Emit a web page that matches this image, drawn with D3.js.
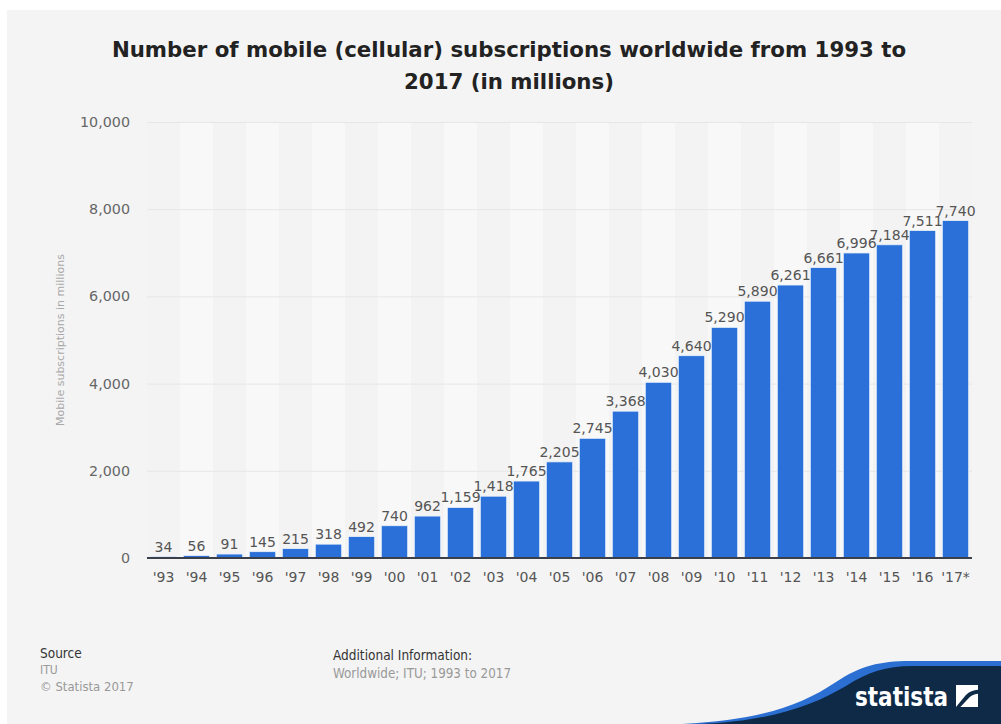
<!DOCTYPE html>
<html>
<head>
<meta charset="utf-8">
<script src="https://cdn.jsdelivr.net/npm/d3@7"></script>
<style>
  html, body { margin: 0; padding: 0; background: #ffffff; }
  svg { display: block; }
</style>
</head>
<body>
<svg id="chart" width="1001" height="724"></svg>
<script>
// Mobile subscriptions worldwide, in millions
const years = ["'93","'94","'95","'96","'97","'98","'99","'00","'01","'02","'03","'04","'05",
               "'06","'07","'08","'09","'10","'11","'12","'13","'14","'15","'16","'17*"];
const subscriptions = [34, 56, 91, 145, 215, 318, 492, 740, 962, 1159, 1418, 1765, 2205,
                       2745, 3368, 4030, 4640, 5290, 5890, 6261, 6661, 6996, 7184, 7511, 7740];
const yTicks = [0, 2000, 4000, 6000, 8000, 10000];

const titleLines = ["Number of mobile (cellular) subscriptions worldwide from 1993 to", "2017 (in millions)"];
const yTitle = "Mobile subscriptions in millions";

const svg = d3.select("#chart");
const W = 1001, H = 724;

// panel background
svg.append("rect").attr("x", 7).attr("y", 10).attr("width", W - 7).attr("height", H - 10)
  .attr("fill", "#f4f4f4");

// title
const title = svg.append("text")
  .attr("text-anchor", "middle")
  .attr("font-family", "'DejaVu Sans', sans-serif")
  .attr("font-weight", "bold")
  .attr("font-size", 21.3)
  .attr("fill", "#222");
titleLines.forEach((line, i) => {
  title.append("tspan").attr("x", 509).attr("y", 57 + i * 32).text(line);
});

// plot area
const plot = { left: 147, right: 972, top: 122, bottom: 558 };

const x = d3.scaleBand()
  .domain(years)
  .range([plot.left, plot.right])
  .paddingInner(0.2)
  .paddingOuter(0.1);

const y = d3.scaleLinear()
  .domain([0, 10000])
  .range([plot.bottom, plot.top]);

// alternating column stripes
const bandStep = x.step();
svg.append("g").selectAll("rect")
  .data(years)
  .join("rect")
  .attr("x", d => x(d) - x.paddingOuter() * bandStep)
  .attr("y", plot.top)
  .attr("width", bandStep)
  .attr("height", plot.bottom - plot.top)
  .attr("fill", (d, i) => i % 2 === 0 ? "#f3f3f3" : "#f8f8f8");

// y axis with gridlines
const fmt = d3.format(",");
const yAxis = svg.append("g")
  .attr("transform", `translate(${plot.left},0)`)
  .call(d3.axisLeft(y).tickValues(yTicks).tickFormat(fmt)
    .tickSize(-(plot.right - plot.left)).tickPadding(17));
yAxis.select(".domain").remove();
yAxis.selectAll(".tick line").attr("stroke", "#e6e6e6").attr("stroke-width", 1);
yAxis.selectAll(".tick text")
  .attr("font-family", "'DejaVu Sans', sans-serif")
  .attr("font-size", 14.3)
  .attr("fill", "#666");

// y axis title
svg.append("text")
  .attr("transform", "translate(64,340) rotate(-90)")
  .attr("text-anchor", "middle")
  .attr("font-family", "'DejaVu Sans', sans-serif")
  .attr("font-size", 11)
  .attr("fill", "#a8a8a8")
  .text(yTitle);

// bars
svg.append("g").selectAll("rect")
  .data(subscriptions)
  .join("rect")
  .attr("x", (d, i) => x(years[i]))
  .attr("y", d => y(d))
  .attr("width", x.bandwidth())
  .attr("height", d => y(0) - y(d))
  .attr("fill", "#2a70d8")
  .attr("stroke", "#eaf2fc")
  .attr("stroke-width", 0.8);

// value labels
svg.append("g").selectAll("text")
  .data(subscriptions)
  .join("text")
  .attr("x", (d, i) => x(years[i]) + x.bandwidth() / 2)
  .attr("y", d => y(d) - 5)
  .attr("text-anchor", "middle")
  .attr("font-family", "'DejaVu Sans', sans-serif")
  .attr("font-size", 14)
  .attr("fill", "#555")
  .text(d => fmt(d));

// x axis
const xAxis = svg.append("g")
  .attr("transform", `translate(0,${plot.bottom})`)
  .call(d3.axisBottom(x).tickSize(0).tickPadding(14));
xAxis.select(".domain")
  .attr("d", `M${plot.left},0H${plot.right}`)
  .attr("stroke", "#3a3f4a").attr("stroke-width", 2);
xAxis.selectAll(".tick text")
  .attr("font-family", "'DejaVu Sans', sans-serif")
  .attr("font-size", 14)
  .attr("fill", "#555");

// footer
const foot = svg.append("g")
  .attr("font-family", "'DejaVu Sans Condensed', 'DejaVu Sans', sans-serif");
foot.append("text").attr("x", 40).attr("y", 658).attr("font-size", 13.5).attr("fill", "#333").text("Source");
foot.append("text").attr("x", 40).attr("y", 674).attr("font-size", 12).attr("fill", "#999").text("ITU");
foot.append("text").attr("x", 40).attr("y", 691).attr("font-size", 13).attr("fill", "#999").text("© Statista 2017");
foot.append("text").attr("x", 333).attr("y", 660).attr("font-size", 13.5).attr("fill", "#333").text("Additional Information:");
foot.append("text").attr("x", 333).attr("y", 678).attr("font-size", 13.3).attr("fill", "#999").text("Worldwide; ITU; 1993 to 2017");

// brand corner: blue wave over navy block
const logo = svg.append("g");
logo.append("path")
  .attr("d", "M682,724 C760,720 800,706 836,682 C860,666 880,661 910,661 L1001,661 L1001,724 Z")
  .attr("fill", "#2b6fd2");
logo.append("path")
  .attr("d", "M700,724 C770,721 812,706 846,686 C868,672 886,666 912,666 L1001,666 L1001,724 Z")
  .attr("fill", "#0e2a47");
logo.append("text")
  .attr("x", 855).attr("y", 706)
  .attr("font-family", "'DejaVu Sans Condensed', 'DejaVu Sans', sans-serif")
  .attr("font-weight", "bold")
  .attr("font-size", 27)
  .attr("textLength", 93)
  .attr("lengthAdjust", "spacingAndGlyphs")
  .attr("fill", "#ffffff")
  .text("statista");
// logo mark
const mx = 956, my = 685, ms = 22;
logo.append("rect").attr("x", mx).attr("y", my).attr("width", ms).attr("height", ms).attr("fill", "#ffffff");
logo.append("path")
  .attr("d", `M${mx},${my + ms} L${mx + ms * 0.45},${my + ms * 0.45} C${mx + ms * 0.6},${my + ms * 0.3} ${mx + ms * 0.8},${my + ms * 0.25} ${mx + ms},${my + ms * 0.22} L${mx + ms},${my + ms * 0.4} C${mx + ms * 0.82},${my + ms * 0.42} ${mx + ms * 0.66},${my + ms * 0.5} ${mx + ms * 0.55},${my + ms * 0.62} L${mx + ms * 0.2},${my + ms} Z`)
  .attr("fill", "#0e2a47");
</script>
</body>
</html>
